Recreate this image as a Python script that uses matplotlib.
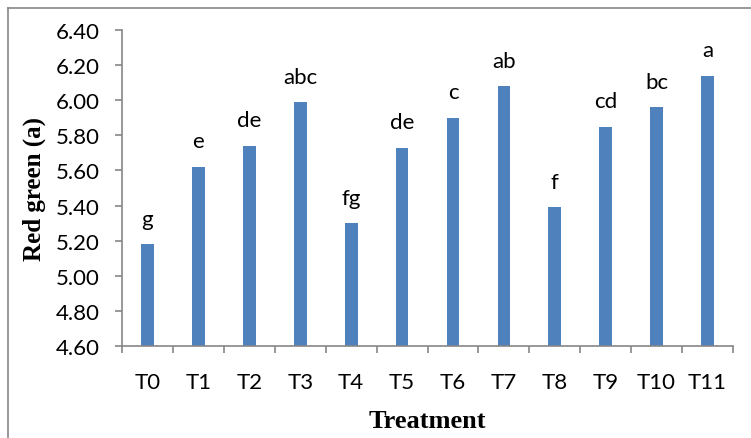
import numpy as np
import matplotlib.pyplot as plt
from matplotlib.lines import Line2D

treatments = ['T0', 'T1', 'T2', 'T3', 'T4', 'T5', 'T6', 'T7', 'T8', 'T9', 'T10', 'T11']
red_green = [5.18, 5.62, 5.74, 5.99, 5.30, 5.73, 5.90, 6.08, 5.39, 5.85, 5.96, 6.14]
letters = ['g', 'e', 'de', 'abc', 'fg', 'de', 'c', 'ab', 'f', 'cd', 'bc', 'a']
yticks = [4.60, 4.80, 5.00, 5.20, 5.40, 5.60, 5.80, 6.00, 6.20, 6.40]

bar_color = '#4F81BD'
axis_grey = '#868686'
tick_font = 'Lato'
fontsize = 16

fig = plt.figure(figsize=(7.51, 4.39), dpi=100)
ax = fig.add_axes([0.1625, 0.2096, 0.8135, 0.7198])

x = np.arange(len(treatments))
ax.bar(x, red_green, width=0.25, color=bar_color, zorder=2)

for xi, val, lab in zip(x, red_green, letters):
    ax.annotate(lab, (xi, val), xytext=(0, 14), textcoords='offset points',
                ha='center', va='baseline', fontsize=fontsize, family=tick_font)

ax.set_xlim(-0.5, len(treatments) - 0.5)
ax.set_ylim(4.6, 6.4)
ax.set_yticks(yticks)
ax.set_yticklabels(['%.2f' % t for t in yticks], family=tick_font, fontsize=fontsize)
ax.set_xticks(x)
ax.set_xticklabels(treatments, family=tick_font, fontsize=fontsize)
ax.set_xticks(np.arange(len(treatments) + 1) - 0.5, minor=True)
ax.tick_params(axis='x', which='major', length=0, pad=19)
ax.tick_params(axis='x', which='minor', length=5, width=1.2, color=axis_grey)
ax.tick_params(axis='y', length=5, width=1.2, color=axis_grey, pad=11)

for side in ['top', 'right']:
    ax.spines[side].set_visible(False)
for side in ['left', 'bottom']:
    ax.spines[side].set_color(axis_grey)
    ax.spines[side].set_linewidth(1.2)

ax.set_ylabel('Red green (a)', family='Liberation Serif', fontweight='bold',
              fontsize=18, labelpad=7)
ax.set_xlabel('Treatment', family='Liberation Serif', fontweight='bold',
              fontsize=19, labelpad=12)

# chart area border (left and top edges)
fig.add_artist(Line2D([8 / 751, 8 / 751], [0, 1 - 9 / 439], color=axis_grey, lw=1.2))
fig.add_artist(Line2D([8 / 751, 1], [1 - 9 / 439, 1 - 9 / 439], color=axis_grey, lw=1.2))

fig.savefig('out.png', dpi=100)
